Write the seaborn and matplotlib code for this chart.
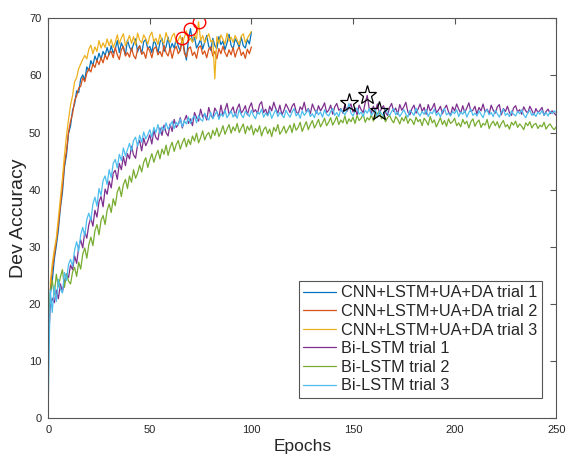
import numpy as np
import pandas as pd
import matplotlib
matplotlib.use("Agg")
import matplotlib.pyplot as plt
import seaborn as sns

# dev accuracy per epoch
cnn_trial1 = [
    21.5, 24.0, 27.8, 30.2, 32.9, 36.8, 39.5, 43.9, 46.1, 49.8,
    51.2, 53.9, 55.0, 57.3, 57.0, 59.4, 60.1, 59.2, 61.5, 60.8,
    62.6, 61.7, 63.4, 62.5, 63.9, 62.8, 64.2, 63.5, 64.9, 63.6,
    65.2, 63.9, 64.6, 66.1, 64.0, 65.7, 64.8, 63.6, 66.2, 65.0,
    64.3, 65.5, 66.4, 64.1, 65.2, 63.8, 65.9, 66.3, 64.6, 65.1,
    64.0, 66.2, 65.4, 63.9, 65.8, 66.5, 64.2, 65.0, 66.7, 64.5,
    65.6, 64.8, 66.4, 65.1, 64.3, 66.6, 64.5, 62.7, 66.3, 68.2,
    65.9, 66.7, 64.8, 65.5, 66.3, 64.6, 65.8, 67.0, 65.1, 64.4,
    66.5, 65.2, 64.7, 66.8, 65.4, 66.0, 64.5, 65.7, 67.2, 65.3,
    64.6, 66.4, 65.8, 64.9, 66.7, 65.2, 64.8, 66.3, 65.5, 67.6,
]
cnn_trial2 = [
    22.5, 26.0, 28.5, 31.0, 33.8, 37.2, 40.5, 44.5, 46.8, 50.1,
    52.0, 53.3, 55.6, 56.4, 57.8, 58.1, 59.6, 58.9, 60.4, 61.2,
    60.6, 62.0, 61.4, 62.7, 61.9, 63.1, 62.2, 63.6, 62.8, 63.9,
    64.2, 63.1, 64.9, 63.6, 62.8, 64.5, 65.1, 63.4, 64.0, 63.2,
    64.8, 63.5, 62.9, 64.6, 65.2, 63.7, 64.1, 63.0, 64.9, 64.3,
    63.1, 64.7, 65.0, 63.6, 64.2, 63.3, 65.3, 64.0, 63.4, 64.8,
    63.0, 64.5, 65.1, 63.8, 64.4, 66.6, 63.9, 63.2, 64.7, 65.0,
    63.5, 64.1, 63.0, 64.9, 65.2, 63.7, 64.3, 63.1, 64.6, 65.0,
    63.4, 64.2, 62.9, 64.7, 63.8, 65.1, 64.0, 63.3, 64.5, 63.6,
    64.9, 63.2, 64.4, 65.0, 63.5, 64.1, 63.0, 64.6, 63.8, 65.0,
]
cnn_trial3 = [
    23.5, 27.0, 29.5, 31.5, 35.0, 38.5, 42.0, 46.0, 49.5, 52.3,
    54.8, 56.5, 58.9, 59.6, 61.2, 62.0, 62.8, 63.5, 62.9, 64.6,
    65.3, 63.8, 65.0, 64.2, 66.1, 64.8, 65.7, 64.9, 66.4, 65.2,
    66.3, 64.9, 65.8, 67.1, 65.5, 66.6, 67.3, 65.2, 66.0, 67.0,
    65.6, 66.8, 65.3, 67.4, 66.2, 65.7, 67.1, 66.4, 65.5, 66.9,
    67.6, 65.9, 66.5, 65.4, 67.2, 66.1, 65.6, 67.5, 66.3, 65.8,
    66.9, 67.4, 65.7, 66.2, 67.0, 65.5, 66.7, 67.8, 66.0, 66.5,
    65.8, 67.2, 66.4, 69.4, 66.1, 67.0, 65.7, 66.6, 67.3, 65.9,
    66.2, 59.4, 66.8, 65.6, 67.1, 66.3, 65.5, 67.4, 66.0, 66.7,
    65.8, 67.0, 66.2, 65.4, 66.9, 67.3, 65.7, 66.5, 67.1, 67.7,
]
bilstm_trial1 = [
    12.0, 19.5, 21.0, 20.2, 22.4, 20.9, 23.5, 22.1, 24.0, 25.3,
    24.6, 26.8, 26.0, 28.4, 27.1, 29.9, 31.2, 29.8, 32.6, 31.5,
    33.9, 35.1, 33.6, 36.4, 35.2, 37.9, 38.8, 37.0, 40.1, 39.2,
    41.5, 40.3, 42.9, 43.4, 41.8, 44.6, 43.5, 45.8, 44.2, 46.3,
    45.4, 47.6, 46.1, 45.5, 47.9, 48.6, 46.8, 49.0, 47.7, 48.5,
    49.6, 48.0, 50.4, 49.1, 48.7, 50.8, 49.5, 51.3, 50.0, 49.4,
    51.5, 50.2, 52.3, 50.9, 51.4, 52.6, 50.8, 52.1, 53.0, 51.6,
    52.4, 51.2, 53.5, 52.6, 52.0, 54.1, 52.7, 53.3, 52.2, 54.4,
    53.1, 52.5, 54.3, 53.6, 52.6, 54.8, 53.0, 54.0, 55.1, 53.2,
    53.8, 54.5, 52.9, 54.2, 55.0, 53.4, 53.9, 54.7, 53.1, 54.4,
    55.2, 53.6, 54.0, 53.3, 54.9, 55.4, 53.5, 54.1, 53.0, 54.6,
    53.8, 55.3, 54.2, 53.4, 54.8, 53.1, 53.9, 55.0, 54.3, 53.5,
    54.6, 55.1, 53.7, 53.2, 54.5, 54.0, 55.3, 53.6, 54.2, 53.3,
    55.0, 54.1, 53.4, 54.7, 53.8, 54.4, 55.2, 53.5, 53.9, 54.8,
    53.2, 54.5, 55.1, 53.9, 54.2, 53.4, 54.9, 53.7, 54.4, 55.0,
    53.6, 54.3, 53.1, 54.8, 54.0, 53.5, 55.2, 56.5, 54.1, 53.4,
    54.6, 53.8, 55.0, 53.3, 54.2, 54.7, 53.5, 53.0, 54.4, 55.1,
    53.7, 54.3, 53.2, 54.9, 53.9, 54.5, 55.3, 53.6, 53.1, 54.2,
    54.8, 53.4, 54.1, 55.0, 53.7, 54.4, 53.2, 54.9, 53.8, 54.3,
    55.1, 53.5, 53.9, 54.6, 53.3, 54.2, 54.8, 53.6, 53.0, 54.5,
    53.8, 55.0, 54.1, 53.4, 54.7, 53.5, 54.3, 55.2, 53.7, 53.9,
    54.6, 53.2, 54.4, 53.8, 55.0, 53.6, 54.1, 53.3, 54.8, 53.9,
    53.4, 54.5, 54.9, 53.1, 54.2, 53.7, 54.6, 53.5, 53.0, 54.3,
    54.7, 53.6, 54.0, 53.2, 54.5, 53.8, 53.4, 54.6, 53.9, 53.1,
    54.2, 53.5, 53.9, 54.4, 53.0, 53.7, 54.1, 53.3, 53.8, 53.4,
    53.0,
]
bilstm_trial2 = [
    16.0, 22.2, 24.1, 21.6, 25.2, 23.0, 24.7, 26.0, 22.9, 25.3,
    24.0, 23.5, 25.6, 26.4, 24.8, 27.3, 26.1, 28.7, 29.8, 28.0,
    30.4, 31.7, 30.2, 32.8, 33.9, 32.1, 34.6, 35.5, 33.9, 36.4,
    37.5, 36.0, 38.4, 37.2, 39.6, 40.5, 38.8, 40.9, 41.8, 40.2,
    42.4, 41.3, 43.5, 42.0, 42.9, 44.3, 43.1, 44.8, 45.6, 43.9,
    45.2, 46.3, 44.8, 46.0, 46.9, 45.4, 47.1, 46.2, 47.8, 46.0,
    47.4, 48.3, 46.7, 47.9, 48.6, 47.1, 48.2, 49.0, 47.5, 48.8,
    47.9, 49.4, 48.5, 49.9, 48.2, 49.1, 50.3, 48.7, 49.6, 50.0,
    48.9, 50.4, 49.5, 50.8, 49.3, 50.1, 51.2, 49.7, 50.6, 51.4,
    49.9, 51.0, 50.3, 51.6, 50.0, 50.8, 51.5, 49.8, 51.1, 50.4,
    51.3, 49.6, 50.7, 50.1, 51.2, 49.4, 50.5, 51.0, 49.8, 50.6,
    49.3, 50.9, 50.2, 51.4, 49.7, 50.3, 51.1, 49.9, 50.6, 51.3,
    50.0, 51.6, 50.4, 50.9, 51.8, 50.2, 51.1, 51.9, 50.5, 51.4,
    52.1, 50.8, 51.5, 52.3, 51.0, 51.7, 52.5, 51.2, 51.8, 52.6,
    51.3, 52.0, 52.8, 51.4, 52.2, 51.7, 52.9, 51.5, 52.4, 51.9,
    52.7, 51.6, 53.0, 52.1, 52.5, 53.2, 51.8, 52.6, 52.2, 53.1,
    52.0, 52.8, 53.3, 53.8, 52.4, 52.9, 51.9, 52.6, 53.0, 52.2,
    51.7, 52.8, 52.3, 51.5, 52.6, 52.0, 52.9, 51.6, 52.4, 52.1,
    51.4, 52.7, 51.9, 52.3, 51.2, 52.5, 52.0, 51.3, 52.8, 51.7,
    52.2, 51.0, 51.8, 52.6, 51.4, 52.1, 51.1, 52.4, 51.6, 51.9,
    52.5, 51.2, 51.7, 51.0, 52.3, 51.5, 52.0, 50.8, 51.9, 52.4,
    51.1, 51.8, 52.2, 50.9, 51.6, 51.3, 52.3, 50.7, 51.5, 52.0,
    51.2, 51.9, 50.8, 51.6, 52.1, 51.0, 51.4, 50.6, 51.8, 51.3,
    52.0, 50.9, 51.5, 51.1, 50.5, 51.7, 51.2, 51.9, 50.8, 51.4,
    51.6, 50.7, 51.3, 51.0, 51.8, 50.6, 51.2, 51.5, 50.9, 50.5,
    51.0,
]
bilstm_trial3 = [
    2.0, 22.4, 18.5, 23.2, 20.4, 24.3, 22.6, 21.9, 25.5, 24.1,
    26.9, 27.8, 26.6, 29.4, 30.9, 29.2, 32.1, 33.4, 31.9, 34.8,
    35.9, 34.6, 37.5, 38.7, 37.1, 40.2, 39.0, 41.6, 42.4, 40.9,
    43.5, 42.1, 44.6, 45.3, 43.8, 46.2, 45.1, 47.3, 45.9, 47.0,
    48.1, 46.8, 48.6, 49.2, 47.6, 49.5, 48.3, 50.1, 48.9, 49.6,
    50.5, 49.2, 50.9, 50.0, 51.4, 49.8, 51.0, 50.4, 51.7, 50.6,
    51.2, 52.0, 50.7, 51.8, 51.3, 52.4, 51.0, 52.1, 51.5, 52.7,
    51.6, 52.5, 52.9, 51.7, 53.0, 52.3, 52.0, 53.4, 52.6, 52.2,
    53.5, 52.4, 53.1, 53.7, 52.3, 53.3, 52.8, 53.9, 52.6, 53.2,
    53.8, 52.7, 53.4, 52.5, 54.0, 53.1, 52.6, 53.7, 53.3, 52.8,
    53.9, 53.0, 52.4, 53.6, 53.2, 54.1, 52.7, 53.4, 52.9, 53.8,
    52.5, 53.3, 54.0, 52.8, 53.5, 53.1, 52.6, 53.9, 53.2, 52.7,
    53.6, 54.2, 52.9, 53.4, 52.5, 53.8, 53.0, 53.5, 54.1, 52.8,
    53.3, 52.6, 53.9, 53.1, 53.6, 52.7, 54.0, 53.2, 52.9, 53.7,
    54.2, 53.0, 53.5, 52.8, 54.1, 53.6, 53.1, 53.9, 55.1, 53.4,
    52.9, 53.8, 54.3, 53.2, 53.6, 52.8, 53.9, 53.4, 54.2, 53.0,
    53.5, 54.0, 52.7, 53.8, 53.3, 52.9, 54.1, 53.5, 53.0, 53.7,
    54.2, 53.1, 53.6, 52.8, 53.4, 54.0, 53.2, 52.7, 53.9, 53.5,
    53.0, 54.3, 53.4, 52.9, 53.7, 53.2, 54.0, 52.8, 53.6, 53.3,
    54.1, 53.0, 53.5, 52.7, 53.8, 54.2, 53.1, 53.4, 52.9, 53.7,
    53.3, 54.0, 52.8, 53.6, 53.2, 53.9, 52.7, 53.5, 54.1, 53.0,
    53.4, 52.9, 53.8, 53.2, 52.6, 53.7, 54.0, 53.1, 53.5, 52.8,
    53.9, 53.3, 52.7, 53.6, 54.1, 53.0, 53.4, 52.8, 53.8, 53.2,
    52.9, 53.7, 53.3, 54.0, 53.1, 52.6, 53.5, 53.9, 53.0, 53.4,
    52.8, 53.6, 53.2, 53.9, 53.0, 53.5, 52.9, 53.7, 53.3, 53.8,
    53.5,
]

labels = ["CNN+LSTM+UA+DA trial 1", "CNN+LSTM+UA+DA trial 2", "CNN+LSTM+UA+DA trial 3",
          "Bi-LSTM trial 1", "Bi-LSTM trial 2", "Bi-LSTM trial 3"]
colors = ["#0072BD", "#D95319", "#EDB120", "#7E2F8E", "#77AC30", "#4DBEEE"]
series = [cnn_trial1, cnn_trial2, cnn_trial3, bilstm_trial1, bilstm_trial2, bilstm_trial3]
starts = [1, 1, 1, 0, 0, 0]  # CNN runs are logged from epoch 1

frames = []
for lab, vals, s in zip(labels, series, starts):
    frames.append(pd.DataFrame({"Epochs": np.arange(s, s + len(vals)),
                                "Dev Accuracy": vals, "run": lab}))
df = pd.concat(frames, ignore_index=True)

sns.set_style("white")
plt.rcParams["font.family"] = ["Liberation Sans", "DejaVu Sans"]

fig = plt.figure(figsize=(5.67, 4.58), dpi=100)
ax = fig.add_axes([0.085, 0.087, 0.896, 0.873])

sns.lineplot(data=df, x="Epochs", y="Dev Accuracy", hue="run", hue_order=labels,
             palette=colors, estimator=None, linewidth=0.9, ax=ax)

# best epoch of every run
for i, (vals, s) in enumerate(zip(series, starts)):
    k = int(np.argmax(vals))
    if i < 3:
        ax.plot(k + s, vals[k], "o", ms=9, mfc="none", mec="red", mew=1.0)
    else:
        ax.plot(k + s, vals[k], "*", ms=14, mfc="none", mec="black", mew=0.9)

ax.set_xlim(0, 250)
ax.set_ylim(0, 70)
ax.set_xticks(np.arange(0, 251, 50))
ax.set_yticks(np.arange(0, 71, 10))
ax.tick_params(direction="in", top=True, right=True, length=4, width=0.8, pad=5,
               labelsize=8, colors="#262626", color="#555555")
for sp in ax.spines.values():
    sp.set_color("#555555")
    sp.set_linewidth(0.8)
ax.set_xlabel("Epochs", fontsize=12.5, color="#262626", labelpad=3)
ax.set_ylabel("Dev Accuracy", fontsize=14, color="#262626", labelpad=1)

leg = ax.legend(loc="lower right", bbox_to_anchor=(0.972, 0.05), borderaxespad=0,
                fontsize=11.7, handlelength=2.0, handletextpad=0.3, labelspacing=0.22,
                borderpad=0.3, fancybox=False, framealpha=1, edgecolor="#555555")
leg.get_frame().set_linewidth(0.8)

fig.savefig("out.png", dpi=100)
